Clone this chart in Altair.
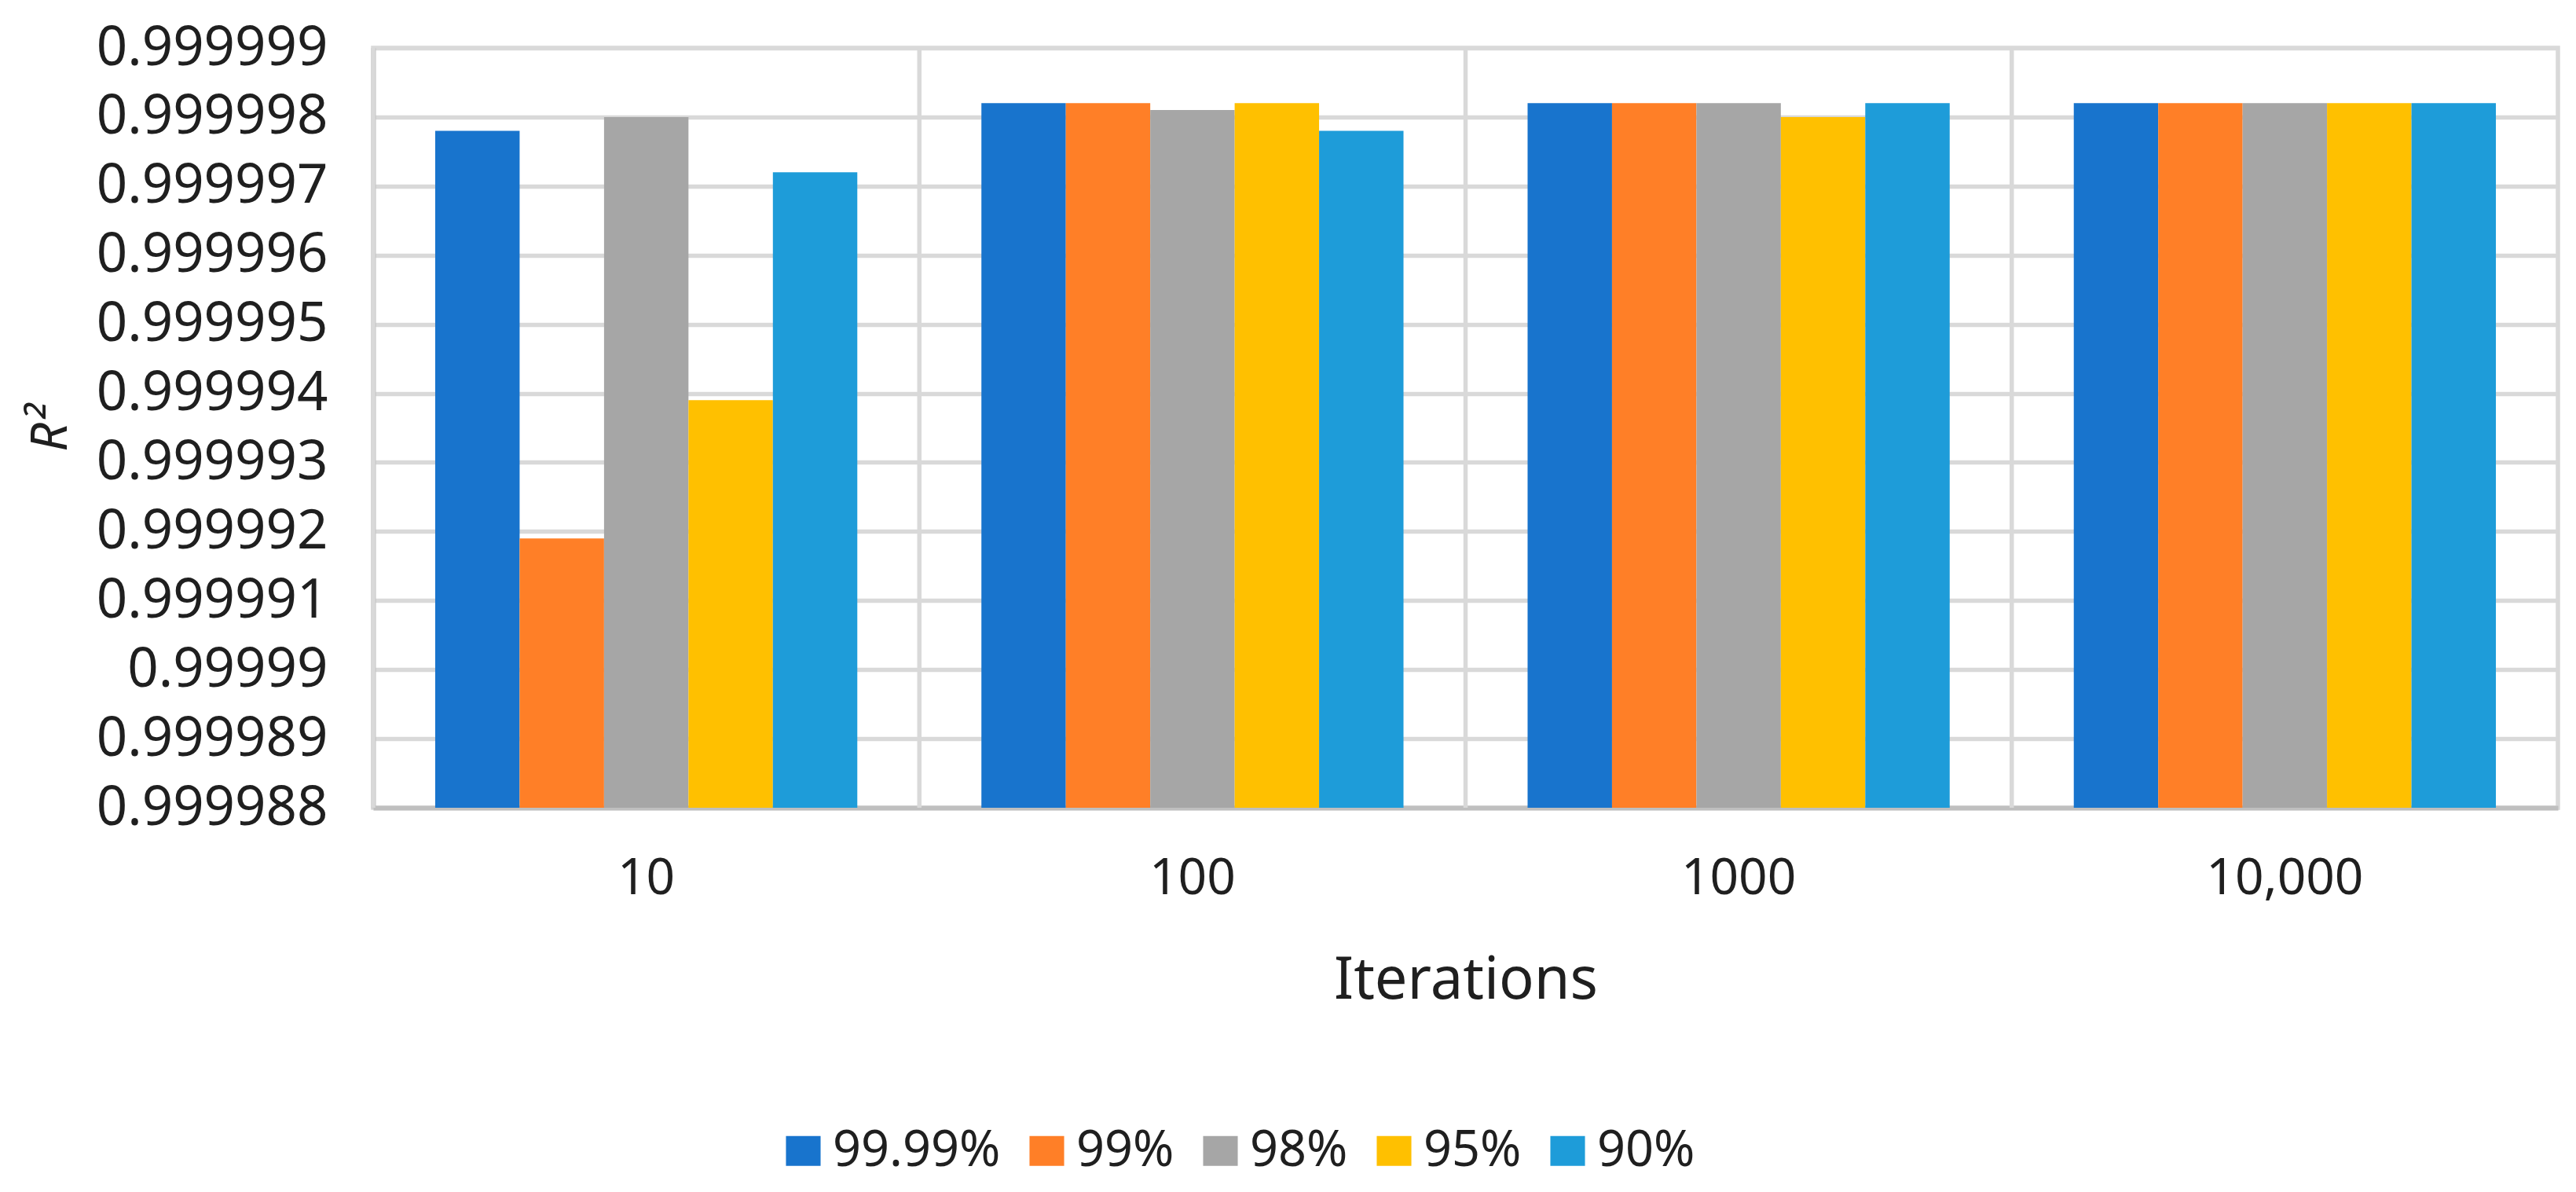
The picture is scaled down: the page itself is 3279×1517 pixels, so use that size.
import altair as alt
import pandas as pd

# ---- data ----
categories = ["10", "100", "1000", "10,000"]
series = ["99.99%", "99%", "98%", "95%", "90%"]
vals_9999 = [0.9999978, 0.9999982, 0.9999982, 0.9999982]
vals_99 = [0.9999919, 0.9999982, 0.9999982, 0.9999982]
vals_98 = [0.9999980, 0.9999981, 0.9999982, 0.9999982]
vals_95 = [0.9999939, 0.9999982, 0.9999980, 0.9999982]
vals_90 = [0.9999972, 0.9999978, 0.9999982, 0.9999982]
y_ticks = [0.999988, 0.999989, 0.999990, 0.999991, 0.999992, 0.999993,
           0.999994, 0.999995, 0.999996, 0.999997, 0.999998, 0.999999]
colors = ["#1874CD", "#FF7F27", "#A6A6A6", "#FFC000", "#1E9CD9"]

rows = []
for s, vals in zip(series, [vals_9999, vals_99, vals_98, vals_95, vals_90]):
    for c, v in zip(categories, vals):
        rows.append({"iter": c, "series": s, "r2": v})
df = pd.DataFrame(rows)
cat_df = pd.DataFrame({"iter": categories})

FONT = "Noto Sans"
TXT = "#1f1f1f"
PLOT_H = 967

x_axis = alt.Axis(title="Iterations", grid=False, ticks=False, labelAngle=0,
                  labelFont=FONT, labelFontSize=64, labelColor=TXT, labelPadding=58,
                  labelLimit=0,
                  titleFont=FONT, titleFontSize=74, titleFontWeight="normal",
                  titleColor=TXT, titlePadding=62,
                  domainColor="#BFBFBF", domainWidth=6)

x_enc_scale = alt.Scale(domain=categories, paddingInner=0, paddingOuter=0)

rules = alt.Chart(cat_df).mark_rule(color="#D9D9D9", strokeWidth=5.5).encode(
    x=alt.X("iter:N", sort=categories, scale=x_enc_scale, bandPosition=0, axis=x_axis),
    y=alt.datum(y_ticks[-1]),
    y2=alt.datum(y_ticks[0]),
)

bars = alt.Chart(df).mark_bar().encode(
    x=alt.X("iter:N", sort=categories, scale=x_enc_scale, axis=x_axis),
    xOffset=alt.XOffset("series:N", sort=series,
                        scale=alt.Scale(domain=series, paddingInner=0, paddingOuter=0.735)),
    y=alt.Y("r2:Q",
            scale=alt.Scale(domain=[y_ticks[0], y_ticks[-1]], zero=False, nice=False),
            axis=alt.Axis(values=y_ticks, format=".6~f", title="R²", ticks=False,
                          grid=True, gridColor="#D9D9D9", gridWidth=5.5,
                          domainColor="#BFBFBF", domainWidth=6, labelLimit=0,
                          labelFont=FONT, labelFontSize=69, labelColor=TXT, labelPadding=58,
                          titleFont=FONT, titleFontSize=64, titleFontStyle="italic",
                          titleFontWeight="normal", titleColor=TXT,
                          titleX=-410, titleY=PLOT_H / 2, titleAngle=270,
                          titleAlign="center", titleBaseline="middle")),
    y2=alt.datum(y_ticks[0]),
    color=alt.Color("series:N", sort=series,
                    scale=alt.Scale(domain=series, range=colors),
                    legend=alt.Legend(title=None, orient="none", direction="horizontal",
                                      legendX=516, legendY=1372,
                                      symbolType="M-1.16,-1H1.16V1H-1.16Z",
                                      symbolSize=1444, symbolStrokeWidth=0,
                                      labelFont=FONT, labelFontSize=63, labelColor=TXT,
                                      labelLimit=0,
                                      labelOffset=6, columnPadding=27, padding=0)),
)

chart = alt.layer(rules, bars).properties(
    width=2781, height=PLOT_H,
    autosize=alt.AutoSizeParams(type="none"),
    padding={"left": 467, "top": 53, "right": 15, "bottom": 480},
    background="white",
).configure_view(stroke="#D9D9D9", strokeWidth=5.5)

chart.save("out.html", embed_options={"renderer": "svg", "actions": False})
